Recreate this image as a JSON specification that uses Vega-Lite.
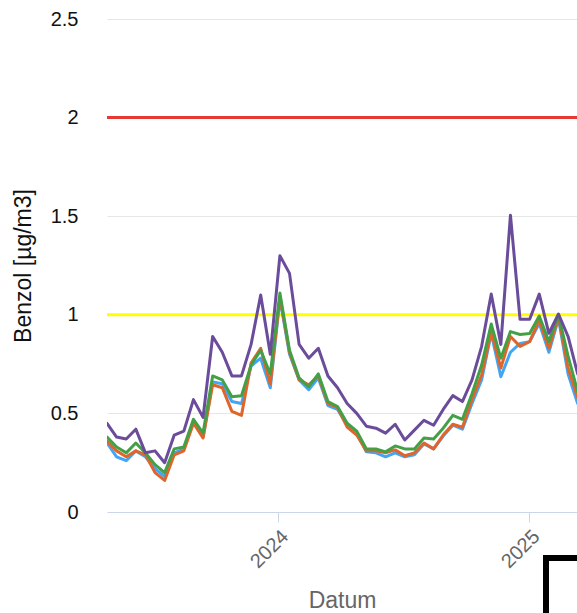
{
  "$schema": "https://vega.github.io/schema/vega-lite/v6.json",
  "width": 470,
  "height": 493,
  "autosize": {"type": "none"},
  "padding": {"left": 107, "top": 19, "right": 0, "bottom": 101},
  "background": "#ffffff",
  "config": {"view": {"stroke": null}, "font": "Liberation Sans"},
  "layer": [
    {
      "data": {"values": [
        {"grenzwert": 2, "farbe": "#e53935"},
        {"grenzwert": 1, "farbe": "#ffff00"}
      ]},
      "mark": {"type": "rule", "strokeWidth": 3},
      "encoding": {
        "y": {"field": "grenzwert", "type": "quantitative", "scale": {"domain": [0, 2.5]},
          "axis": {"values": [0, 0.5, 1, 1.5, 2, 2.5], "format": "~g", "title": "Benzol [µg/m3]", "domain": false, "ticks": false, "labelPadding": 29, "labelFontSize": 20, "labelColor": "#111111", "gridColor": "#e6e6e6", "titleFontSize": 23, "titleFontWeight": "normal", "titleColor": "#111111", "titleX": -72, "titleY": 246.5}},
        "color": {"field": "farbe", "type": "nominal", "scale": null}
      }
    },
    {
      "data": {"values": [
        {"Datum": "2023-04-27", "s1": 0.35, "s2": 0.36, "s3": 0.38, "s4": 0.45},
        {"Datum": "2023-05-11", "s1": 0.28, "s2": 0.31, "s3": 0.33, "s4": 0.38},
        {"Datum": "2023-05-25", "s1": 0.26, "s2": 0.28, "s3": 0.30, "s4": 0.37},
        {"Datum": "2023-06-08", "s1": 0.31, "s2": 0.31, "s3": 0.35, "s4": 0.42},
        {"Datum": "2023-06-22", "s1": 0.28, "s2": 0.29, "s3": 0.30, "s4": 0.30},
        {"Datum": "2023-07-06", "s1": 0.22, "s2": 0.20, "s3": 0.24, "s4": 0.31},
        {"Datum": "2023-07-20", "s1": 0.18, "s2": 0.16, "s3": 0.20, "s4": 0.25},
        {"Datum": "2023-08-03", "s1": 0.30, "s2": 0.29, "s3": 0.32, "s4": 0.39},
        {"Datum": "2023-08-17", "s1": 0.32, "s2": 0.31, "s3": 0.33, "s4": 0.41},
        {"Datum": "2023-08-31", "s1": 0.46, "s2": 0.45, "s3": 0.47, "s4": 0.57},
        {"Datum": "2023-09-14", "s1": 0.38, "s2": 0.375, "s3": 0.40, "s4": 0.48},
        {"Datum": "2023-09-28", "s1": 0.66, "s2": 0.645, "s3": 0.69, "s4": 0.89},
        {"Datum": "2023-10-12", "s1": 0.65, "s2": 0.63, "s3": 0.67, "s4": 0.81},
        {"Datum": "2023-10-26", "s1": 0.56, "s2": 0.51, "s3": 0.585, "s4": 0.69},
        {"Datum": "2023-11-09", "s1": 0.55, "s2": 0.49, "s3": 0.59, "s4": 0.69},
        {"Datum": "2023-11-23", "s1": 0.74, "s2": 0.755, "s3": 0.745, "s4": 0.85},
        {"Datum": "2023-12-07", "s1": 0.78, "s2": 0.83, "s3": 0.82, "s4": 1.10},
        {"Datum": "2023-12-21", "s1": 0.63, "s2": 0.65, "s3": 0.70, "s4": 0.80},
        {"Datum": "2024-01-04", "s1": 1.08, "s2": 1.09, "s3": 1.11, "s4": 1.30},
        {"Datum": "2024-01-18", "s1": 0.80, "s2": 0.81, "s3": 0.82, "s4": 1.21},
        {"Datum": "2024-02-01", "s1": 0.67, "s2": 0.67, "s3": 0.68, "s4": 0.85},
        {"Datum": "2024-02-15", "s1": 0.62, "s2": 0.645, "s3": 0.635, "s4": 0.78},
        {"Datum": "2024-02-29", "s1": 0.68, "s2": 0.69, "s3": 0.70, "s4": 0.83},
        {"Datum": "2024-03-14", "s1": 0.54, "s2": 0.55, "s3": 0.56, "s4": 0.69},
        {"Datum": "2024-03-28", "s1": 0.52, "s2": 0.53, "s3": 0.535, "s4": 0.63},
        {"Datum": "2024-04-11", "s1": 0.44, "s2": 0.43, "s3": 0.45, "s4": 0.55},
        {"Datum": "2024-04-25", "s1": 0.40, "s2": 0.39, "s3": 0.41, "s4": 0.50},
        {"Datum": "2024-05-09", "s1": 0.305, "s2": 0.31, "s3": 0.32, "s4": 0.435},
        {"Datum": "2024-05-23", "s1": 0.30, "s2": 0.31, "s3": 0.32, "s4": 0.425},
        {"Datum": "2024-06-06", "s1": 0.28, "s2": 0.30, "s3": 0.305, "s4": 0.40},
        {"Datum": "2024-06-20", "s1": 0.30, "s2": 0.315, "s3": 0.335, "s4": 0.445},
        {"Datum": "2024-07-04", "s1": 0.28, "s2": 0.285, "s3": 0.32, "s4": 0.365},
        {"Datum": "2024-07-18", "s1": 0.29, "s2": 0.30, "s3": 0.32, "s4": 0.415},
        {"Datum": "2024-08-01", "s1": 0.345, "s2": 0.35, "s3": 0.375, "s4": 0.465},
        {"Datum": "2024-08-15", "s1": 0.32, "s2": 0.32, "s3": 0.37, "s4": 0.44},
        {"Datum": "2024-08-29", "s1": 0.385, "s2": 0.39, "s3": 0.425, "s4": 0.52},
        {"Datum": "2024-09-12", "s1": 0.44, "s2": 0.445, "s3": 0.49, "s4": 0.59},
        {"Datum": "2024-09-26", "s1": 0.42, "s2": 0.43, "s3": 0.47, "s4": 0.56},
        {"Datum": "2024-10-10", "s1": 0.55, "s2": 0.57, "s3": 0.60, "s4": 0.67},
        {"Datum": "2024-10-24", "s1": 0.67, "s2": 0.695, "s3": 0.745, "s4": 0.84},
        {"Datum": "2024-11-07", "s1": 0.906, "s2": 0.915, "s3": 0.953, "s4": 1.105},
        {"Datum": "2024-11-21", "s1": 0.686, "s2": 0.73, "s3": 0.78, "s4": 0.85},
        {"Datum": "2024-12-05", "s1": 0.81, "s2": 0.89, "s3": 0.915, "s4": 1.505},
        {"Datum": "2024-12-19", "s1": 0.855, "s2": 0.84, "s3": 0.90, "s4": 0.977},
        {"Datum": "2025-01-02", "s1": 0.864, "s2": 0.864, "s3": 0.905, "s4": 0.977},
        {"Datum": "2025-01-16", "s1": 0.957, "s2": 0.974, "s3": 0.994, "s4": 1.105},
        {"Datum": "2025-01-30", "s1": 0.81, "s2": 0.83, "s3": 0.864, "s4": 0.906},
        {"Datum": "2025-02-13", "s1": 0.98, "s2": 0.99, "s3": 1.0, "s4": 1.004},
        {"Datum": "2025-02-27", "s1": 0.70, "s2": 0.73, "s3": 0.79, "s4": 0.89},
        {"Datum": "2025-03-13", "s1": 0.55, "s2": 0.58, "s3": 0.61, "s4": 0.70}
      ]},
      "transform": [{"fold": ["s1", "s2", "s3", "s4"], "as": ["Messstelle", "Benzol"]}],
      "mark": {"type": "line", "strokeWidth": 3, "strokeJoin": "round", "strokeCap": "round", "clip": true},
      "encoding": {
        "x": {"field": "Datum", "type": "temporal",
          "scale": {"type": "utc", "domain": [{"year": 2023, "month": 4, "date": 27, "utc": true}, {"year": 2025, "month": 3, "date": 12, "utc": true}]},
          "axis": {"values": [{"year": 2024, "month": 1, "date": 1, "utc": true}, {"year": 2025, "month": 1, "date": 1, "utc": true}], "format": "%Y", "labelAngle": -45, "labelFontSize": 20, "labelColor": "#666666", "labelPadding": 4, "domainColor": "#ccd6eb", "tickColor": "#ccd6eb", "tickSize": 10, "grid": false, "title": "Datum", "titleFontSize": 23, "titleFontWeight": "normal", "titleColor": "#666666", "titleY": 77}},
        "y": {"field": "Benzol", "type": "quantitative", "scale": {"domain": [0, 2.5]},
          "axis": {"values": [0, 0.5, 1, 1.5, 2, 2.5], "format": "~g", "title": "Benzol [µg/m3]", "domain": false, "ticks": false, "labelPadding": 29, "labelFontSize": 20, "labelColor": "#111111", "gridColor": "#e6e6e6", "titleFontSize": 23, "titleFontWeight": "normal", "titleColor": "#111111", "titleX": -72, "titleY": 246.5}},
        "color": {"field": "Messstelle", "type": "nominal", "scale": {"domain": ["s1", "s2", "s3", "s4"], "range": ["#42a5f5", "#e0652b", "#43a047", "#6b4c9a"]},
          "legend": {"orient": "none", "legendX": 439, "legendY": 539, "strokeColor": "#000000", "padding": 40, "title": null, "labelFontSize": 14, "labelExpr": "''",
            "encode": {"legend": {"update": {"stroke": {"value": "#000000"}, "strokeWidth": {"value": 6}}}}}}
      }
    }
  ]
}
